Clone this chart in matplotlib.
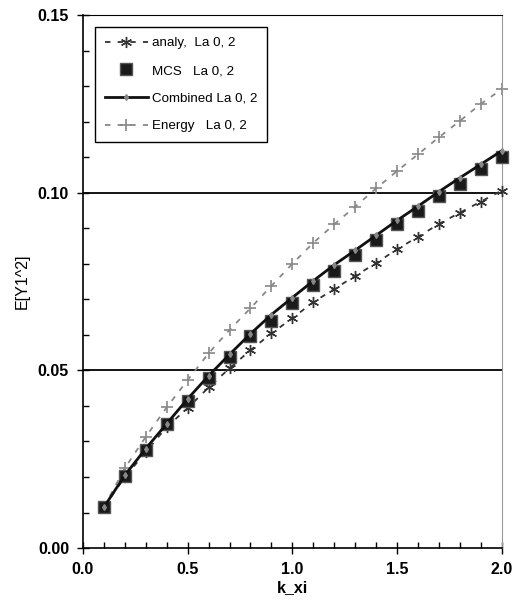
import numpy as np
import matplotlib
matplotlib.use("Agg")
from matplotlib import pyplot as plt
from matplotlib.ticker import MultipleLocator, FormatStrFormatter

k_xi = [0.1, 0.2, 0.3, 0.4, 0.5, 0.6, 0.7, 0.8, 0.9, 1.0,
        1.1, 1.2, 1.3, 1.4, 1.5, 1.6, 1.7, 1.8, 1.9, 2.0]

analy = [0.0115, 0.0200, 0.0270, 0.0341, 0.0394, 0.0452, 0.0506, 0.0557, 0.0604, 0.0647,
         0.0692, 0.0729, 0.0766, 0.0802, 0.0841, 0.0876, 0.0912, 0.0944, 0.0975, 0.1006]
mcs = [0.0115, 0.0203, 0.0275, 0.0350, 0.0414, 0.0480, 0.0537, 0.0597, 0.0640, 0.0690,
       0.0740, 0.0780, 0.0825, 0.0867, 0.0912, 0.0949, 0.0991, 0.1024, 0.1067, 0.1100]
combined = [0.0115, 0.0205, 0.0280, 0.0350, 0.0420, 0.0485, 0.0545, 0.0603, 0.0657, 0.0705,
            0.0752, 0.0797, 0.0838, 0.0880, 0.0922, 0.0962, 0.1003, 0.1042, 0.1080, 0.1118]
energy = [0.0115, 0.0225, 0.0313, 0.0396, 0.0473, 0.0548, 0.0614, 0.0675, 0.0738, 0.0800,
          0.0859, 0.0911, 0.0961, 0.1012, 0.1061, 0.1108, 0.1156, 0.1202, 0.1250, 0.1291]

labels = ["analy,  La 0, 2", "MCS   La 0, 2", "Combined La 0, 2", "Energy   La 0, 2"]

plt.rcParams['font.family'] = ['Liberation Sans', 'DejaVu Sans']

fig = plt.figure(figsize=(5.12, 6.01), dpi=100)
ax = fig.add_axes([0.162, 0.088, 0.818, 0.887])

# horizontal reference lines at the major y ticks
for yv in [0.05, 0.10]:
    ax.axhline(yv, color='black', lw=1.3, zorder=1)

ax.plot(k_xi, analy, linestyle=(0, (3, 4)), color='#333333', lw=1.3, clip_on=False,
        marker=(6, 2, 0), markersize=8, markeredgewidth=1.0, label=labels[0], zorder=3)
ax.plot(k_xi, mcs, linestyle='none', marker='s', markersize=8.5, color='#1a1a1a', clip_on=False,
        markeredgecolor='#555555', label=labels[1], zorder=4)
ax.plot(k_xi, combined, '-', color='#111111', lw=2.0, marker='d', markersize=3, clip_on=False,
        markerfacecolor='#888888', markeredgecolor='#888888', label=labels[2], zorder=5)
ax.plot(k_xi, energy, linestyle=(0, (3, 4)), color='#888888', lw=1.3, clip_on=False,
        marker='+', markersize=9, markeredgewidth=1.2, label=labels[3], zorder=2)

ax.set_xlim(0, 2.0)
ax.set_ylim(0, 0.15)
ax.xaxis.set_major_locator(MultipleLocator(0.5))
ax.xaxis.set_minor_locator(MultipleLocator(0.1))
ax.yaxis.set_major_locator(MultipleLocator(0.05))
ax.yaxis.set_minor_locator(MultipleLocator(0.01))
ax.xaxis.set_major_formatter(FormatStrFormatter('%.1f'))
ax.yaxis.set_major_formatter(FormatStrFormatter('%.2f'))
ax.tick_params(which='major', direction='inout', length=8, width=1, labelsize=11.5, pad=6)
ax.tick_params(which='minor', direction='in', length=4, width=1)
for lab in ax.get_xticklabels() + ax.get_yticklabels():
    lab.set_fontweight('bold')

ax.spines['right'].set_color('#999999')
ax.spines['top'].set_color('black')
for s in ['left', 'bottom']:
    ax.spines[s].set_linewidth(1.2)

ax.set_xlabel('k_xi', fontsize=11.5, fontweight='bold', labelpad=2)
ax.set_ylabel('E[Y1^2]', fontsize=11.5, labelpad=6)

leg = ax.legend(loc='upper left', bbox_to_anchor=(0.0286, 0.9775), borderaxespad=0,
                frameon=True, fancybox=False, edgecolor='black', framealpha=1,
                fontsize=9.6, labelspacing=1.15, handlelength=3.2, handletextpad=0.3,
                borderpad=0.75)
leg.get_frame().set_linewidth(1.0)

fig.savefig('out.png', dpi=100)
